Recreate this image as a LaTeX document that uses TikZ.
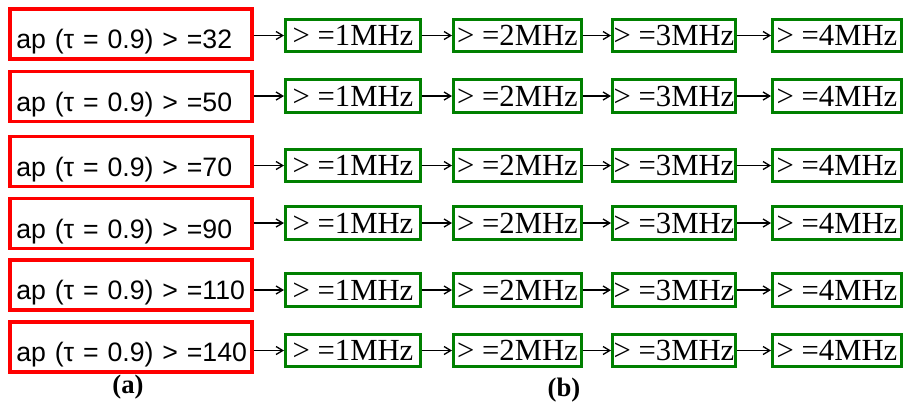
\documentclass[tikz,border=0pt]{standalone}
\usepackage{fontspec}
\setmainfont{Liberation Serif}
\newfontfamily\redfont{Liberation Sans}
\usetikzlibrary{arrows.meta}
\definecolor{rb}{RGB}{255,0,0}
\definecolor{gb}{RGB}{0,128,0}
\begin{document}
\begin{tikzpicture}[x=0.75pt,y=-0.75pt,
  redbox/.style={draw=rb, line width=2.6pt, minimum width=181.5pt, minimum height=37.5pt,
    inner sep=0pt, text width=172pt, align=left,
    font=\redfont\fontsize{20}{20}\selectfont, text height=22pt, text depth=0pt},
  greenbox/.style={draw=gb, line width=2.25pt, minimum height=24.5pt, inner sep=0pt,
    font=\fontsize{23}{23}\selectfont, text height=15pt, text depth=0pt},
  arr/.style={line width=1pt, -{Straight Barb[length=5pt,width=6pt]}},
  lab/.style={font=\bfseries\fontsize{20}{20}\selectfont}]
\useasboundingbox (0,0) rectangle (905,405);
\foreach \i/\n/\ry/\gy in {1/32/34/35.5, 2/50/96.5/96, 3/70/161.5/165.5, 4/90/223.5/223, 5/110/285/290, 6/140/347/350.5} {
  \node[redbox] (r\i) at (131,\ry) {\mbox{ap (τ = 0.9) > =\n}};
  \node[greenbox, minimum width=101.25pt] (g\i a) at (353,\gy) {> =1MHz};
  \node[greenbox, minimum width=96pt] (g\i b) at (517.5,\gy) {> =2MHz};
  \node[greenbox, minimum width=92.25pt] (g\i c) at (674,\gy) {> =3MHz};
  \node[greenbox, minimum width=96.75pt] (g\i d) at (837,\gy) {> =4MHz};
  \draw[arr] (r\i.east |- g\i a.west) -- (g\i a.west);
  \draw[arr] (g\i a.east) -- (g\i b.west);
  \draw[arr] (g\i b.east) -- (g\i c.west);
  \draw[arr] (g\i c.east) -- (g\i d.west);
}
\node[lab] (la) at (128,387) {(a)};
\node[lab] (lb) at (564,390) {(b)};
\end{tikzpicture}
\end{document}
